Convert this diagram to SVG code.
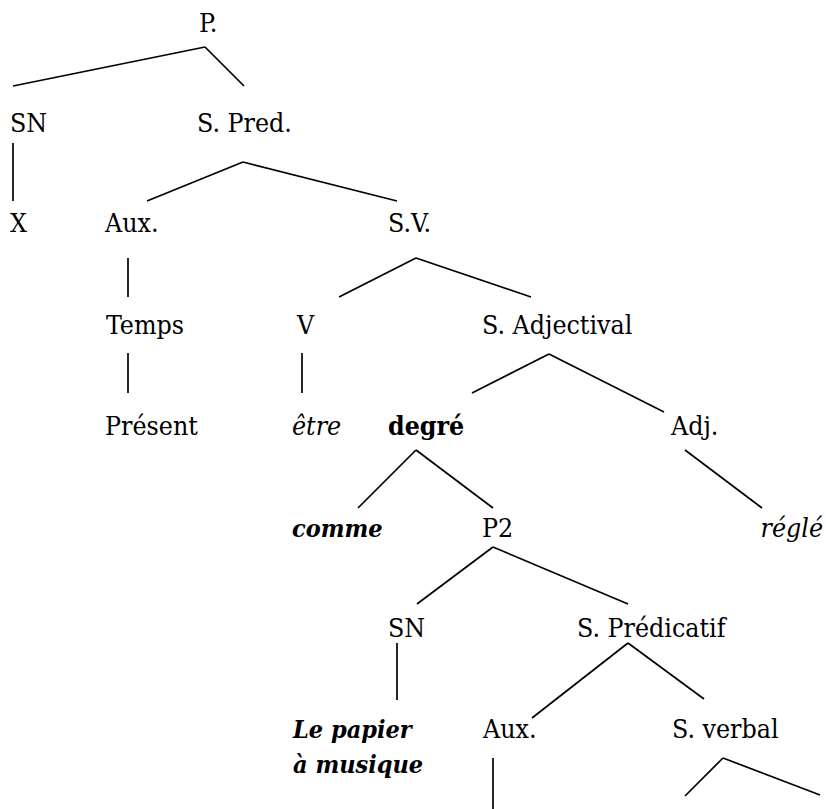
<svg xmlns="http://www.w3.org/2000/svg" width="826" height="809" viewBox="0 0 826 809">
<style>
text{font-family:"DejaVu Serif Condensed","DejaVu Serif",serif;font-stretch:condensed;font-size:26.5px;fill:#000}
.i{font-style:italic}
.b{font-weight:bold}
.ib{font-style:italic;font-weight:bold;font-size:25px}
.e line{stroke:#000;stroke-width:1.7;stroke-linecap:butt}
</style>
<rect width="826" height="809" fill="#fff"/>
<g class="e" id="connectors">
<line x1="13" y1="86" x2="205" y2="47"/>
<line x1="205" y1="47" x2="244" y2="86"/>
<line x1="13" y1="143" x2="13" y2="201"/>
<line x1="147" y1="201" x2="243" y2="162"/>
<line x1="243" y1="162" x2="397" y2="201"/>
<line x1="339" y1="297" x2="416" y2="258"/>
<line x1="416" y1="258" x2="531" y2="297"/>
<line x1="128" y1="258" x2="128" y2="297"/>
<line x1="128" y1="353" x2="128" y2="393"/>
<line x1="302" y1="353" x2="302" y2="393"/>
<line x1="472" y1="393" x2="549" y2="354"/>
<line x1="549" y1="354" x2="664" y2="412"/>
<line x1="358" y1="508" x2="416" y2="450"/>
<line x1="416" y1="450" x2="493" y2="508"/>
<line x1="685" y1="450" x2="762" y2="508"/>
<line x1="417" y1="604" x2="493" y2="547"/>
<line x1="493" y1="547" x2="628" y2="604"/>
<line x1="397" y1="643" x2="397" y2="700"/>
<line x1="532" y1="718" x2="628" y2="643"/>
<line x1="628" y1="643" x2="704" y2="699"/>
<line x1="493" y1="758" x2="493" y2="809"/>
<line x1="685" y1="796" x2="723" y2="758"/>
<line x1="723" y1="758" x2="820" y2="795"/>
</g>
<g id="n-P"><text x="199" y="32">P.</text></g>
<g id="n-SN"><text x="10" y="132">SN</text></g>
<g id="n-SPred"><text x="197" y="132">S. Pred.</text></g>
<g id="n-X"><text x="10" y="232">X</text></g>
<g id="n-Aux1"><text x="105" y="232">Aux.</text></g>
<g id="n-SV"><text x="388" y="232">S.V.</text></g>
<g id="n-Temps"><text x="106" y="334">Temps</text></g>
<g id="n-V"><text x="297" y="334">V</text></g>
<g id="n-SAdj"><text x="482" y="334">S. Adjectival</text></g>
<g id="n-Present"><text x="105" y="435">Présent</text></g>
<g id="n-etre"><text class="i" x="292" y="435">être</text></g>
<g id="n-degre"><text class="b" x="388" y="435">degré</text></g>
<g id="n-Adj"><text x="671" y="435">Adj.</text></g>
<g id="n-comme"><text class="ib" x="292" y="537">comme</text></g>
<g id="n-P2"><text x="482" y="537">P2</text></g>
<g id="n-regle"><text class="i" x="823" y="537" text-anchor="end">réglé</text></g>
<g id="n-SN2"><text x="388" y="637">SN</text></g>
<g id="n-SPredicatif"><text x="577" y="637">S. Prédicatif</text></g>
<g id="n-papier"><text class="ib" x="293" y="738">Le papier</text><text class="ib" x="293" y="773">à musique</text></g>
<g id="n-Aux2"><text x="483" y="738">Aux.</text></g>
<g id="n-Sverbal"><text x="672" y="738">S. verbal</text></g>
</svg>
